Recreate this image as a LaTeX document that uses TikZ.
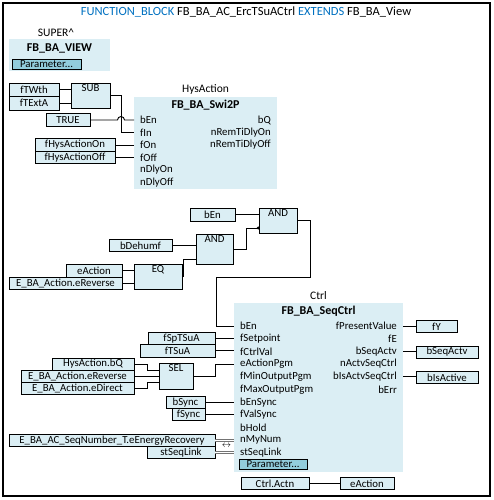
\documentclass[tikz,border=0pt]{standalone}
\usepackage{fontspec}
\setmainfont{Carlito}
\definecolor{fbfill}{RGB}{219,238,244}
\definecolor{parfill}{RGB}{146,205,220}
\definecolor{kwblue}{RGB}{0,112,192}
\newcommand\pinf{\fontsize{10.8}{12}\selectfont}
\newcommand\fbtitlef{\fontsize{12}{14}\selectfont\bfseries}
\begin{document}
\begin{tikzpicture}[x=1pt,y=-1pt,
  every node/.style={inner sep=0pt, font=\pinf},
  ln/.style={line width=0.9pt},
  var/.style={draw, line width=0.8pt, fill=fbfill, minimum height=12.5pt},
  op/.style={draw, line width=0.8pt, fill=fbfill},
  blk/.style={fill=fbfill, anchor=north west},
  pinl/.style={anchor=west, inner xsep=6pt},
  pinr/.style={anchor=east, inner xsep=6pt},
  parbtn/.style={draw, line width=0.8pt, fill=parfill, minimum height=10pt},
  oplabel/.style={anchor=north, yshift=-1.5pt, font=\pinf},
  inout/.style={draw=black!55, double=white, double distance=1.4pt, line width=0.5pt}
  ]
\useasboundingbox (0,0) rectangle (494,500);
\draw[line width=1.2pt] (3,3) rectangle (490,496);

% title
\node (title) at (246,12.5) {\fontsize{12.5}{14}\selectfont\textcolor{kwblue}{FUNCTION\_BLOCK} FB\_BA\_AC\_ErcTSuACtrl \textcolor{kwblue}{EXTENDS} FB\_BA\_View};

% SUPER
\node (super) at (56,33) {\fontsize{11.5}{13}\selectfont SUPER\textasciicircum};
\node[blk, minimum width=101pt, minimum height=32pt] (view) at (9,39) {};
\node (viewt) at (59.5,48) {\fbtitlef FB\_BA\_VIEW};
\node[parbtn, minimum width=69pt] (viewpar) at (46.5,64) {Parameter...};

% SUB
\node[var, minimum width=50pt, minimum height=13.5pt] (ftwth) at (34,89.75) {fTWth};
\node[var, minimum width=50pt, minimum height=13.5pt] (ftexta) at (34,103.25) {fTExtA};
\node[op, minimum width=39pt, minimum height=25pt, label={[oplabel]north:SUB}] (sub) at (90.5,95.5) {};
\draw[ln] (ftwth.east) -- (ftwth.east -| sub.west);
\draw[ln] (ftexta.east) -- (ftexta.east -| sub.west);

\node[var, minimum width=44pt, minimum height=13.5pt] (true) at (68,120) {TRUE};

% Swi2P
\node (hysl) at (205.5,89) {\fontsize{11.5}{13}\selectfont HysAction};
\node[blk, minimum width=143pt, minimum height=92pt] (swi) at (134,97) {};
\node (swit) at (205.5,105) {\fbtitlef FB\_BA\_Swi2P};
\node[pinl] (swi-ben) at (134,120) {bEn};
\node[pinl] (swi-fin) at (134,132.5) {fIn};
\node[pinl] (swi-fon) at (134,145) {fOn};
\node[pinl] (swi-foff) at (134,157.5) {fOff};
\node[pinl] (swi-ndon) at (134,170) {nDlyOn};
\node[pinl] (swi-ndoff) at (134,182.5) {nDlyOff};
\node[pinr] (swi-bq) at (277,120) {bQ};
\node[pinr] (swi-rton) at (277,132.5) {nRemTiDlyOn};
\node[pinr] (swi-rtoff) at (277,145) {nRemTiDlyOff};

\node[var, minimum width=80pt] (fhon) at (75,145) {fHysActionOn};
\node[var, minimum width=80pt] (fhoff) at (75,157.5) {fHysActionOff};
\draw[ln] (fhon.east) -- (swi-fon.west);
\draw[ln] (fhoff.east) -- (swi-foff.west);
\draw[ln] (sub.east) -- ++(11,0) |- (swi-fin.west);
\draw[ln] (true.east) -- (117.5,120) arc[start angle=180, end angle=0, radius=3.5pt] -- (swi-ben.west);

% AND / EQ logic
\node[var, minimum width=45pt, minimum height=13pt] (ben2) at (212.5,214.5) {bEn};
\node[op, minimum width=38pt, minimum height=25pt, label={[oplabel]north:AND}] (and2) at (278,220.5) {};
\coordinate (and2in2) at (259,228);
\draw[ln] (ben2.east) -- (ben2.east -| and2.west);

\node[var, minimum width=63pt, minimum height=12pt] (bdeh) at (140.5,245.5) {bDehumf};
\node[op, minimum width=37pt, minimum height=30pt, label={[oplabel]north:AND}] (and1) at (214.5,249) {};
\coordinate (and1in2) at (196,259);
\draw[ln] (bdeh.east) -- (bdeh.east -| and1.west);
\draw[ln] (and1.east) -- ++(13.5,0) |- (and2in2);
\fill (and2in2) ++(-0.8,0) circle (1.6pt);

\node[var, minimum width=56pt, minimum height=13pt] (eact1) at (94,270.5) {eAction};
\node[var, minimum width=113pt, minimum height=12.5pt] (erev1) at (65.5,283.25) {E\_BA\_Action.eReverse};
\node[op, minimum width=48pt, minimum height=25pt, label={[oplabel]north:EQ}] (eq) at (158,276.5) {};
\draw[ln] (eact1.east) -- (eact1.east -| eq.west);
\draw[ln] (erev1.east) -- (erev1.east -| eq.west);
\draw[ln] (eq.east) -- ++(1.5,0) |- (and1in2);

% SeqCtrl
\node (ctrll) at (318.5,296) {\fontsize{11.5}{13}\selectfont Ctrl};
\node[blk, minimum width=169pt, minimum height=169pt] (seq) at (234,303) {};
\node (seqt) at (318.5,311.5) {\fbtitlef FB\_BA\_SeqCtrl};
\node[pinl] (seq-ben) at (234,326) {bEn};
\node[pinl] (seq-fsp) at (234,338.7) {fSetpoint};
\node[pinl] (seq-fcv) at (234,351.4) {fCtrlVal};
\node[pinl] (seq-eap) at (234,364.1) {eActionPgm};
\node[pinl] (seq-fmin) at (234,376.8) {fMinOutputPgm};
\node[pinl] (seq-fmax) at (234,389.5) {fMaxOutputPgm};
\node[pinl] (seq-bes) at (234,402.2) {bEnSync};
\node[pinl] (seq-fvs) at (234,414.9) {fValSync};
\node[pinl] (seq-bh) at (234,427.6) {bHold};
\node[pinl] (seq-nmy) at (234,440.3) {nMyNum};
\node[pinl] (seq-stl) at (234,453) {stSeqLink};
\node[parbtn, minimum width=68pt] (seqpar) at (273,464) {Parameter...};
\node[pinr] (seq-fpv) at (403,326) {fPresentValue};
\node[pinr] (seq-fe) at (403,338.7) {fE};
\node[pinr] (seq-bsa) at (403,351.4) {bSeqActv};
\node[pinr] (seq-nas) at (403,364.1) {nActvSeqCtrl};
\node[pinr] (seq-bias) at (403,376.8) {bIsActvSeqCtrl};
\node[pinr] (seq-berr) at (403,389.5) {bErr};

\draw[ln] (and2.east) -- ++(13,0) |- (216,277) |- (seq-ben.west);

\node[var, minimum width=41pt, minimum height=12pt] (fy) at (436.5,326.5) {fY};
\node[var, minimum width=62pt, minimum height=12pt] (bsa) at (447,351.9) {bSeqActv};
\node[var, minimum width=62pt, minimum height=12pt] (bia) at (447,377.3) {bIsActive};
\draw[ln] (seq-fpv.east) -- (seq-fpv.east -| fy.west);
\draw[ln] (seq-bsa.east) -- (seq-bsa.east -| bsa.west);
\draw[ln] (seq-bias.east) -- (seq-bias.east -| bia.west);

\node[var, minimum width=67pt, minimum height=12.2pt] (fsp) at (181.5,338.7) {fSpTSuA};
\node[var, minimum width=75pt, minimum height=12.2pt] (ftsu) at (177.5,350.9) {fTSuA};
\draw[ln] (fsp.east) -- (seq-fsp.west);
\draw[ln] (ftsu.east) -- (ftsu.east -| seq-fcv.west);

\node[var, minimum width=82pt, minimum height=12pt] (hysbq) at (93,364) {HysAction.bQ};
\node[var, minimum width=113pt, minimum height=12pt] (erev2) at (77.5,376) {E\_BA\_Action.eReverse};
\node[var, minimum width=113pt, minimum height=12pt] (edir) at (77.5,388) {E\_BA\_Action.eDirect};
\node[op, minimum width=34pt, minimum height=26pt, label={[oplabel]north:SEL}] (sel) at (176,376) {};
\coordinate (selin1) at (159,370.5);
\coordinate (selin3) at (159,382.5);
\draw[ln] (hysbq.east) -- ++(13,0) |- (selin1);
\draw[ln] (erev2.east) -- (erev2.east -| sel.west);
\draw[ln] (edir.east) -- ++(13,0) |- (selin3);
\draw[ln] (sel.east) -- ++(22,0) |- (seq-eap.west);

\node[var, minimum width=39pt, minimum height=12pt] (bsync) at (185.5,402.2) {bSync};
\node[var, minimum width=33pt, minimum height=12pt] (fsync) at (188.5,414.6) {fSync};
\draw[ln] (bsync.east) -- (seq-bes.west);
\draw[ln] (fsync.east) -- (fsync.east -| seq-fvs.west);

\node[var, minimum width=206pt, minimum height=12pt] (eer) at (112,440.3) {E\_BA\_AC\_SeqNumber\_T.eEnergyRecovery};
\node[var, minimum width=68pt, minimum height=12.5pt] (stl) at (181,452.55) {stSeqLink};
\draw[inout] (eer.east) -- (seq-nmy.west);
\draw[inout] (stl.east) -- (stl.east -| seq-stl.west);
\node (inoutsym) at (226.5,446.3) {\fontsize{9}{10}\selectfont$\leftrightarrow$};

\node[var, minimum width=68pt, minimum height=11.5pt] (cactn) at (275,483.5) {Ctrl.Actn};
\node[var, minimum width=54pt, minimum height=11.5pt] (eact2) at (367,483.5) {eAction};
\draw[ln] (cactn.east) -- (eact2.west);
\end{tikzpicture}
\end{document}
